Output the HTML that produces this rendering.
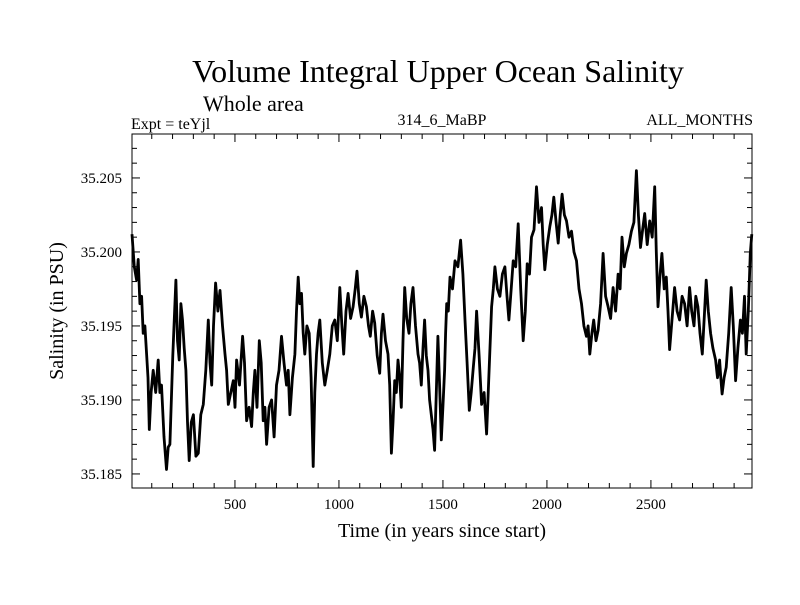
<!DOCTYPE html>
<html><head><meta charset="utf-8"><style>
body{margin:0;background:#fff;}
svg text{font-family:"Liberation Serif",serif;fill:#000;}
</style></head><body>
<svg id="chart" width="800" height="600" viewBox="0 0 800 600" xmlns="http://www.w3.org/2000/svg">
<rect width="800" height="600" fill="#fff"/>
<text x="438" y="82" font-size="32" text-anchor="middle">Volume Integral Upper Ocean Salinity</text>
<text x="203" y="111" font-size="22">Whole area</text>
<text x="131" y="129" font-size="16">Expt = teYjl</text>
<text x="442" y="125" font-size="16" text-anchor="middle">314_6_MaBP</text>
<text x="753" y="125" font-size="16" text-anchor="end">ALL_MONTHS</text>
<text transform="translate(63,311) rotate(-90)" font-size="20" text-anchor="middle">Salinity (in PSU)</text>
<text x="442" y="537" font-size="20" text-anchor="middle">Time (in years since start)</text>
<g id="axes"></g>
<path id="series" fill="none" stroke="#000" stroke-width="2.8" stroke-linejoin="round"/>
<rect x="132" y="134" width="620" height="354" fill="none" stroke="#000" stroke-width="1"/>
</svg>
<script>
const years = [5,16,27,35,43,51,59,67,75,82,88,97,107,119,131,139,147,159,171,179,187,201,216,224,232,240,248,256,264,272,280,290,300,312,324,336,348,360,372,380,388,397,407,418,428,440,452,460,468,480,492,500,508,522,537,546,556,568,580,588,596,606,617,626,636,644,652,664,676,688,700,712,724,736,748,756,764,776,788,796,804,812,820,828,836,846,857,866,876,884,892,900,908,920,932,944,956,968,980,992,1004,1014,1023,1034,1044,1056,1068,1078,1087,1098,1108,1120,1132,1142,1151,1162,1172,1184,1196,1204,1212,1224,1236,1244,1252,1260,1268,1276,1284,1292,1300,1308,1316,1326,1337,1346,1356,1368,1380,1388,1396,1404,1412,1420,1428,1436,1444,1452,1460,1468,1476,1484,1492,1500,1508,1513,1518,1526,1534,1546,1558,1572,1585,1596,1606,1616,1627,1636,1646,1654,1662,1674,1686,1698,1710,1722,1734,1742,1750,1762,1774,1786,1798,1808,1817,1828,1838,1850,1862,1874,1886,1896,1905,1916,1926,1938,1950,1962,1974,1982,1990,2002,2014,2024,2033,2044,2054,2064,2073,2084,2094,2106,2118,2130,2142,2154,2166,2178,2190,2198,2206,2216,2225,2236,2246,2258,2270,2282,2294,2306,2318,2330,2342,2352,2361,2372,2382,2394,2406,2418,2430,2440,2450,2460,2470,2482,2494,2506,2518,2526,2534,2544,2553,2564,2574,2582,2590,2602,2614,2626,2638,2650,2662,2674,2686,2696,2707,2716,2726,2736,2747,2756,2766,2776,2787,2798,2811,2820,2830,2836,2842,2852,2862,2874,2886,2896,2907,2918,2930,2940,2950,2954,2958,2968,2978,2985];
const salinity = [35.2012,35.1990,35.1981,35.1995,35.1965,35.1970,35.1945,35.1950,35.1931,35.1915,35.1880,35.1905,35.1920,35.1905,35.1927,35.1905,35.1910,35.1875,35.1853,35.1868,35.1870,35.1930,35.1981,35.1940,35.1927,35.1965,35.1954,35.1935,35.1920,35.1885,35.1859,35.1885,35.1890,35.1862,35.1864,35.1890,35.1897,35.1920,35.1954,35.1925,35.1910,35.1950,35.1979,35.1960,35.1974,35.1950,35.1931,35.1920,35.1897,35.1905,35.1913,35.1895,35.1927,35.1910,35.1943,35.1925,35.1886,35.1895,35.1882,35.1905,35.1920,35.1895,35.1940,35.1925,35.1886,35.1895,35.1870,35.1895,35.1900,35.1875,35.1910,35.1920,35.1943,35.1925,35.1910,35.1920,35.1890,35.1915,35.1931,35.1960,35.1983,35.1965,35.1972,35.1945,35.1931,35.1950,35.1945,35.1915,35.1855,35.1905,35.1931,35.1945,35.1954,35.1925,35.1910,35.1920,35.1931,35.1950,35.1954,35.1940,35.1976,35.1950,35.1931,35.1960,35.1972,35.1955,35.1963,35.1975,35.1987,35.1965,35.1956,35.1970,35.1963,35.1950,35.1943,35.1960,35.1952,35.1930,35.1918,35.1945,35.1958,35.1940,35.1931,35.1910,35.1864,35.1885,35.1913,35.1905,35.1927,35.1915,35.1895,35.1940,35.1976,35.1955,35.1945,35.1965,35.1976,35.1950,35.1931,35.1925,35.1910,35.1935,35.1954,35.1930,35.1920,35.1900,35.1890,35.1880,35.1866,35.1905,35.1943,35.1910,35.1873,35.1895,35.1920,35.1945,35.1965,35.1960,35.1983,35.1975,35.1994,35.1990,35.2008,35.1985,35.1954,35.1925,35.1893,35.1905,35.1922,35.1935,35.1960,35.1930,35.1897,35.1905,35.1877,35.1920,35.1963,35.1975,35.1990,35.1975,35.1970,35.1985,35.1990,35.1970,35.1954,35.1975,35.1994,35.1990,35.2019,35.1975,35.1940,35.1960,35.1992,35.1985,35.2010,35.2015,35.2044,35.2020,35.2030,35.2005,35.1988,35.2005,35.2017,35.2025,35.2037,35.2020,35.2006,35.2025,35.2039,35.2025,35.2021,35.2010,35.2014,35.2000,35.1994,35.1975,35.1965,35.1950,35.1943,35.1950,35.1931,35.1945,35.1954,35.1940,35.1947,35.1965,35.1999,35.1970,35.1963,35.1955,35.1976,35.1960,35.1985,35.1975,35.2010,35.1990,35.1999,35.2005,35.2014,35.2020,35.2055,35.2025,35.2003,35.2015,35.2026,35.2005,35.2021,35.2010,35.2044,35.2000,35.1963,35.1985,35.1999,35.1975,35.1983,35.1960,35.1934,35.1955,35.1976,35.1960,35.1954,35.1970,35.1965,35.1950,35.1976,35.1960,35.1950,35.1970,35.1963,35.1945,35.1931,35.1955,35.1981,35.1960,35.1945,35.1935,35.1927,35.1915,35.1927,35.1915,35.1904,35.1915,35.1922,35.1945,35.1976,35.1950,35.1913,35.1935,35.1954,35.1945,35.1970,35.1950,35.1931,35.1960,35.1999,35.2012];
const xTicks = [500,1000,1500,2000,2500];
const yTicks = [35.185,35.190,35.195,35.200,35.205];
const yTickLabels = ["35.185","35.190","35.195","35.200","35.205"];

const X0=132,X1=752,Y0=134,Y1=488;
const xMin=5,xMax=2986,yMin=35.18405,yMax=35.20797;
const sx=v=>X0+(v-xMin)/(xMax-xMin)*(X1-X0);
const sy=v=>Y1-(v-yMin)/(yMax-yMin)*(Y1-Y0);
const NS="http://www.w3.org/2000/svg";
const ax=document.getElementById('axes');
function ln(x1,y1,x2,y2,name){const l=document.createElementNS(NS,'line');
l.setAttribute('x1',x1);l.setAttribute('y1',y1);l.setAttribute('x2',x2);l.setAttribute('y2',y2);
l.setAttribute('stroke','#000');l.setAttribute('stroke-width','1');


ax.appendChild(l);}
function tx(x,y,s,anchor,name){const t=document.createElementNS(NS,'text');
t.setAttribute('x',x);t.setAttribute('y',y);t.setAttribute('font-size','15');t.setAttribute('text-anchor',anchor);t.textContent=s;


ax.appendChild(t);}
for(let v=100;v<xMax;v+=100){const x=sx(v);const major=v%500===0;
ln(x,Y1,x,Y1-(major?8:5),'x-tick');ln(x,Y0,x,Y0+(major?8:5),'x-tick-top');}
xTicks.forEach(v=>tx(sx(v),509,String(v),'middle','x-tick-label'));
for(let k=0;k<24;k++){const v=35.184+k*0.001;if(v<yMin||v>yMax)continue;const y=sy(v);
const major=Math.abs((v-35.185)/0.005-Math.round((v-35.185)/0.005))<1e-6;
ln(X0,y,X0+(major?8:5),y,'y-tick');ln(X1,y,X1-(major?8:5),y,'y-tick-right');}
yTicks.forEach((v,i)=>tx(122,sy(v)+5,yTickLabels[i],'end','y-tick-label'));
let d='';years.forEach((yr,i)=>{d+=(i?'L':'M')+sx(yr).toFixed(1)+','+sy(salinity[i]).toFixed(1);});
document.getElementById('series').setAttribute('d',d);
</script>
</body></html>
